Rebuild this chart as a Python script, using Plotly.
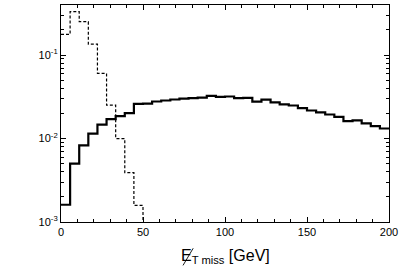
import plotly.graph_objects as go

# ---- data ----
x_min = 0.0
x_max = 200.0
n_bins = 36

solid_vals = [
    1.61e-3, 5.00e-3, 8.30e-3, 1.147e-2, 1.471e-2, 1.713e-2, 1.861e-2, 2.011e-2,
    2.608e-2, 2.615e-2, 2.779e-2, 2.857e-2, 2.937e-2, 3.003e-2, 3.045e-2, 3.096e-2,
    3.236e-2, 3.148e-2, 3.191e-2, 3.053e-2, 3.079e-2, 2.771e-2, 2.921e-2, 2.710e-2,
    2.564e-2, 2.488e-2, 2.309e-2, 2.166e-2, 2.056e-2, 1.940e-2, 1.820e-2, 1.620e-2,
    1.648e-2, 1.516e-2, 1.411e-2, 1.320e-2,
]
dashed_vals = [0.177, 0.331, 0.251, 0.135, 0.0603, 0.0251, 0.0100, 0.0039, 0.00158]

y_log_range = [-3, -0.4]
y_major = [1e-3, 1e-2, 1e-1]
y_major_text = ["10<sup>-3</sup>", "10<sup>-2</sup>", "10<sup>-1</sup>"]
x_major = [0, 50, 100, 150, 200]
x_title = "E<sub>T miss</sub> [GeV]"

# ---- build ----
width = (x_max - x_min) / n_bins
edges = [x_min + i * width for i in range(n_bins + 1)]


def step_xy(vals, drop_to_floor=False):
    xs = edges[:len(vals)] + [edges[len(vals)]]
    ys = list(vals) + [vals[-1]]
    if drop_to_floor:
        xs.append(edges[len(vals)])
        ys.append(10 ** (y_log_range[0] - 1))
    return xs, ys


fig = go.Figure()
sx, sy = step_xy(solid_vals)
fig.add_trace(go.Scatter(x=sx, y=sy, mode="lines", line_shape="hv",
                         line=dict(color="black", width=2.2), showlegend=False))
dx, dy = step_xy(dashed_vals, drop_to_floor=True)
fig.add_trace(go.Scatter(x=dx, y=dy, mode="lines", line_shape="hv",
                         line=dict(color="black", width=1.2, dash="3px,2px"), showlegend=False))

minor_y = []
for d in y_major:
    for k in range(2, 10):
        minor_y.append(d * k)
minor_y = [v for v in minor_y if 10 ** y_log_range[0] < v < 10 ** y_log_range[1]]

fig.update_layout(
    template="none",
    width=403, height=267,
    margin=dict(l=61, r=14, t=5, b=45, pad=0),
    paper_bgcolor="white", plot_bgcolor="white",
    font=dict(family="Liberation Sans, Arial, sans-serif", color="black", size=11),
)
fig.update_xaxes(
    range=[x_min, x_max], showgrid=False, zeroline=False,
    showline=True, linecolor="black", linewidth=1.2, mirror="ticks",
    ticks="inside", ticklen=5, tickwidth=1, tickcolor="black",
    tickfont=dict(color="black", size=11),
    tickvals=x_major, ticktext=[str(v) for v in x_major],
    minor=dict(ticks="inside", ticklen=3, dtick=10, tickcolor="black", showgrid=False),
)
fig.update_yaxes(
    type="log", range=y_log_range, showgrid=False, zeroline=False,
    showline=True, linecolor="black", linewidth=1.2, mirror="ticks",
    ticks="inside", ticklen=5, tickwidth=1, tickcolor="black",
    tickfont=dict(color="black", size=11),
    tickvals=y_major, ticktext=y_major_text,
    minor=dict(ticks="inside", ticklen=3, tickvals=minor_y, tickcolor="black", showgrid=False),
)
fig.add_annotation(text=x_title, xref="paper", yref="paper", x=0.5, y=-0.16,
                   xanchor="center", yanchor="middle", showarrow=False,
                   font=dict(size=16, color="black"))
# slash through the E of the axis title
fig.add_shape(type="line", xref="paper", yref="paper",
              x0=0.372, y0=-0.200, x1=0.403, y1=-0.121,
              line=dict(color="black", width=0.9))

fig.write_html("out.html", post_script="document.body.style.margin='0';",
               config={"displayModeBar": False})
